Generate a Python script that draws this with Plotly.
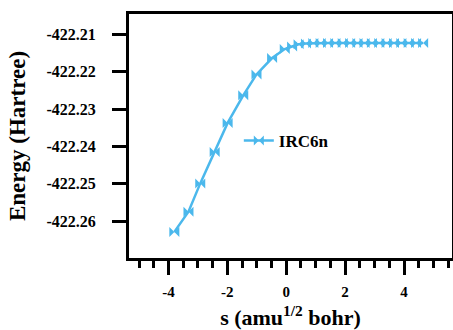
import plotly.graph_objects as go

series_name = "IRC6n"
s_values = [-3.80, -3.32, -2.92, -2.43, -1.99, -1.46, -1.01, -0.48, -0.05, 0.20,
            0.42, 0.67, 0.92, 1.17, 1.42, 1.67, 1.92, 2.17, 2.42, 2.66,
            2.91, 3.16, 3.41, 3.66, 3.91, 4.16, 4.41, 4.65]
energy_values = [-422.2629, -422.2575, -422.2499, -422.2415, -422.2337, -422.2263,
                 -422.2207, -422.2163, -422.2139, -422.2132,
                 -422.2126, -422.2124, -422.2123, -422.2123, -422.2123, -422.2123,
                 -422.2123, -422.2123, -422.2123, -422.2123, -422.2123, -422.2123,
                 -422.2123, -422.2123, -422.2123, -422.2123, -422.2123, -422.2123]
x_tick_vals = [-4, -2, 0, 2, 4]
y_tick_vals = [-422.26, -422.25, -422.24, -422.23, -422.22, -422.21]

color = "#4BB8EC"
serif = "Liberation Serif"

fig = go.Figure()
fig.add_trace(go.Scatter(
    x=s_values, y=energy_values, mode="lines+markers", name=series_name,
    line=dict(color=color, width=2.5),
    marker=dict(symbol="bowtie", size=10, color=color),
))

fig.update_layout(
    width=453, height=330,
    margin=dict(l=129, r=1, t=14, b=72),
    paper_bgcolor="white", plot_bgcolor="white",
    showlegend=True,
    legend=dict(x=0.34, y=0.48, xanchor="left", yanchor="middle",
                bgcolor="rgba(0,0,0,0)",
                font=dict(family=serif, size=17, color="black", weight="bold")),
    xaxis=dict(
        automargin=False,
        range=[-5.34, 5.63], tickvals=x_tick_vals, ticktext=[str(v) for v in x_tick_vals],
        showgrid=False, zeroline=False,
        showline=True, linewidth=3, linecolor="black", mirror=True,
        ticks="outside", ticklen=14, tickwidth=3, tickcolor="black",
        ticklabelstandoff=4,
        minor=dict(dtick=0.5, tick0=0, ticks="outside", ticklen=7, tickwidth=3, tickcolor="black"),
        tickfont=dict(family=serif, size=15, color="black", weight="bold"),
        title=dict(text="s (amu<sup>1/2</sup> bohr)",
                   font=dict(family=serif, size=22, color="black", weight="bold")),
    ),
    yaxis=dict(
        automargin=False,
        range=[-422.2699, -422.2045], tickvals=y_tick_vals,
        ticktext=[f"{v:.2f}" for v in y_tick_vals],
        showgrid=False, zeroline=False,
        showline=True, linewidth=3, linecolor="black", mirror=True,
        ticks="outside", ticklen=14, tickwidth=3, tickcolor="black",
        ticklabelstandoff=13,
        tickfont=dict(family=serif, size=16, color="black", weight="bold"),
        title=dict(text="Energy (Hartree)",
                   font=dict(family=serif, size=23, color="black", weight="bold")),
    ),
)

fig.write_html("out.html", config={"displayModeBar": False},
               post_script="document.body.style.margin='0';document.body.style.padding='0';")
